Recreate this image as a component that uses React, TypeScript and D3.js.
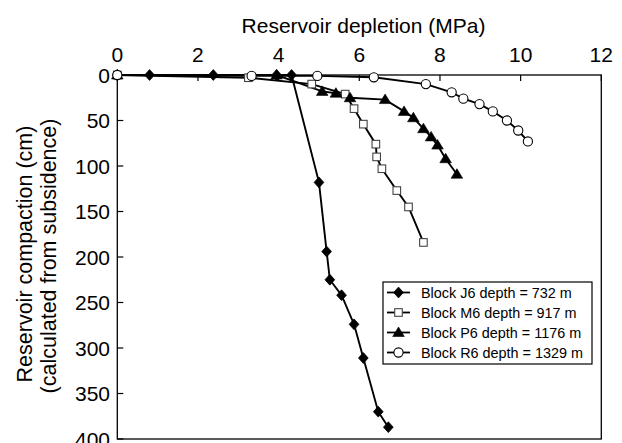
import React from "react";
import * as d3 from "d3";

const xTicks = [0, 2, 4, 6, 8, 10, 12];
const yTicks = [0, 50, 100, 150, 200, 250, 300, 350, 400];

const j6X = [0, 0.8, 2.38, 3.95, 4.32, 5.0, 5.19, 5.27, 5.56, 5.87, 6.1, 6.47, 6.72];
const j6Y = [0, 0, 0, 0, 0, 118, 194, 225, 242, 274, 311, 370, 387];

const m6X = [0, 3.25, 4.82, 5.65, 5.87, 6.1, 6.41, 6.43, 6.56, 6.93, 7.22, 7.59];
const m6Y = [0, 3, 10, 21, 37, 54, 76, 90, 103, 127, 145, 184];

const p6X = [0, 3.95, 5.08, 5.42, 5.77, 6.64, 7.11, 7.34, 7.59, 7.78, 7.94, 8.14, 8.42];
const p6Y = [0, 0, 18, 20, 25, 27, 40, 47, 59, 68, 77, 92, 109];

const r6X = [0, 3.33, 4.96, 6.36, 7.65, 8.29, 8.58, 8.98, 9.31, 9.66, 9.94, 10.18];
const r6Y = [0, 1, 1, 2.5, 10, 19, 26, 32, 40, 50, 61, 73];

const seriesNames = [
  "Block J6 depth = 732 m",
  "Block M6 depth = 917 m",
  "Block P6 depth = 1176 m",
  "Block R6 depth = 1329 m",
];

const FONT = "'Liberation Sans', Arial, Helvetica, sans-serif";

type Kind = "diamond" | "square" | "triangle" | "circle";

function Marker({ kind, x, y }: { kind: Kind; x: number; y: number }) {
  if (kind === "diamond") {
    const s = 5.4;
    return (
      <path
        d={`M${x},${y - s}L${x + s * 0.9},${y}L${x},${y + s}L${x - s * 0.9},${y}Z`}
        fill="#000"
        stroke="#000"
        strokeWidth={0.8}
      />
    );
  }
  if (kind === "square") {
    const s = 7.6;
    return (
      <rect
        x={x - s / 2}
        y={y - s / 2}
        width={s}
        height={s}
        fill="#fff"
        stroke="#444"
        strokeWidth={1.1}
      />
    );
  }
  if (kind === "triangle") {
    const w = 5.8;
    return (
      <path
        d={`M${x},${y - 5.5}L${x + w},${y + 4}L${x - w},${y + 4}Z`}
        fill="#000"
        stroke="#000"
        strokeWidth={0.6}
      />
    );
  }
  return <circle cx={x} cy={y} r={4.6} fill="#fff" stroke="#000" strokeWidth={1.1} />;
}

export default function App() {
  const W = 622;
  const H = 443;
  const x = d3.scaleLinear().domain([0, 12]).range([117.3, 601.3]);
  const y = d3.scaleLinear().domain([0, 400]).range([75, 439]);

  const series: { xs: number[]; ys: number[]; kind: Kind }[] = [
    { xs: j6X, ys: j6Y, kind: "diamond" },
    { xs: m6X, ys: m6Y, kind: "square" },
    { xs: p6X, ys: p6Y, kind: "triangle" },
    { xs: r6X, ys: r6Y, kind: "circle" },
  ];

  const line = d3
    .line<[number, number]>()
    .x((d) => x(d[0]))
    .y((d) => y(d[1]));

  const legX = 383;
  const legY = 282;
  const legW = 209;
  const legH = 82;
  const rowH = 20;

  return (
    <svg
      width={W}
      height={H}
      style={{ position: "absolute", left: 0, top: 0, background: "#fff" }}
      fontFamily={FONT}
    >
      <rect x={0} y={0} width={W} height={H} fill="#fff" />
      {/* frame */}
      <rect
        x={x(0)}
        y={y(0)}
        width={x(12) - x(0)}
        height={y(400) - y(0)}
        fill="none"
        stroke="#000"
        strokeWidth={1.3}
      />
      {/* x ticks (top, inward) */}
      {xTicks.map((t) => (
        <g key={"xt" + t}>
          <line x1={x(t)} x2={x(t)} y1={y(0)} y2={y(0) + 6} stroke="#000" strokeWidth={1.2} />
          <text x={x(t)} y={62} textAnchor="middle" fontSize={21} fill="#000">
            {t}
          </text>
        </g>
      ))}
      {/* y ticks (left, inward) */}
      {yTicks.map((t) => (
        <g key={"yt" + t}>
          <line x1={x(0)} x2={x(0) + 6} y1={y(t)} y2={y(t)} stroke="#000" strokeWidth={1.2} />
          <text
            x={110}
            y={y(t)}
            textAnchor="end"
            dominantBaseline="central"
            fontSize={21}
            fill="#000"
          >
            {t}
          </text>
        </g>
      ))}
      {/* titles */}
      <text x={363.5} y={33} textAnchor="middle" fontSize={21} fill="#000">
        Reservoir depletion (MPa)
      </text>
      <g transform="translate(32,254) rotate(-90)">
        <text x={0} y={0} textAnchor="middle" fontSize={21.5} fill="#000">
          Reservoir compaction (cm)
        </text>
      </g>
      <g transform="translate(56,256) rotate(-90)">
        <text x={0} y={0} textAnchor="middle" fontSize={21.5} fill="#000">
          (calculated from subsidence)
        </text>
      </g>
      {/* series lines */}
      {series.map((s, i) => (
        <path
          key={"l" + i}
          d={line(s.xs.map((v, k) => [v, s.ys[k]] as [number, number])) || ""}
          fill="none"
          stroke="#000"
          strokeWidth={1.9}
        />
      ))}
      {/* markers */}
      {series.map((s, i) => (
        <g key={"m" + i}>
          {s.xs.map((v, k) => (
            <Marker key={k} kind={s.kind} x={x(v)} y={y(s.ys[k])} />
          ))}
        </g>
      ))}
      {/* legend */}
      <rect x={legX} y={legY} width={legW} height={legH} fill="#fff" stroke="#000" strokeWidth={1.2} />
      {series.map((s, i) => {
        const cy = legY + 10.5 + i * rowH;
        return (
          <g key={"lg" + i}>
            <line x1={legX + 4} x2={legX + 27} y1={cy} y2={cy} stroke="#000" strokeWidth={1.8} />
            <Marker kind={s.kind} x={legX + 15.5} y={cy} />
            <text x={legX + 38} y={cy} dominantBaseline="central" fontSize={14.4} fill="#000">
              {seriesNames[i]}
            </text>
          </g>
        );
      })}
    </svg>
  );
}
